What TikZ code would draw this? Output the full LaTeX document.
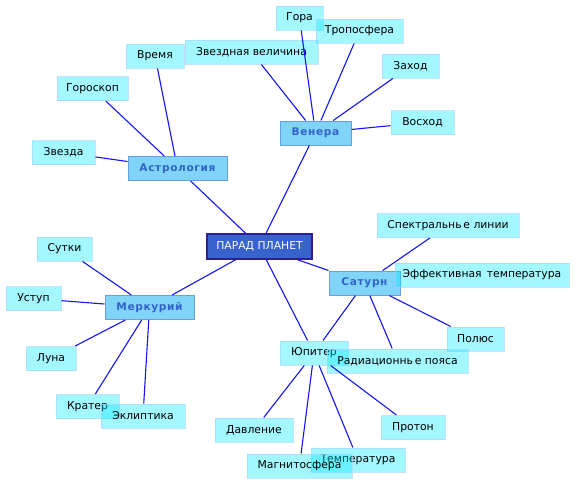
\documentclass[tikz,border=0pt]{standalone}
\usepackage{fontspec}
\setmainfont{DejaVu Sans}
\newfontfamily\hubfont[LetterSpace=6]{DejaVu Sans Bold}
\definecolor{leaffill}{RGB}{0,232,255}
\definecolor{leafdraw}{RGB}{170,215,255}
\definecolor{hubfill}{RGB}{128,212,248}
\definecolor{hubdraw}{RGB}{100,160,230}
\definecolor{hubtext}{RGB}{50,100,200}
\definecolor{cenfill}{RGB}{56,98,204}
\definecolor{cendraw}{RGB}{50,30,140}
\definecolor{linkc}{RGB}{20,20,245}
\tikzset{
  leaf/.style={rectangle, fill=leaffill, fill opacity=0.36, draw=leafdraw, draw opacity=0.7, line width=1pt,
    text opacity=1, text=black, minimum height=24pt, inner sep=0pt, font=\fontsize{10.8}{13}\selectfont},
  hub/.style={rectangle, fill=hubfill, draw=hubdraw, line width=1pt, text=hubtext,
    minimum height=24pt, inner sep=0pt, font=\fontsize{10.6}{13}\hubfont},
  cen/.style={rectangle, fill=cenfill, draw=cendraw, line width=1.5pt, text=white,
    minimum height=25pt, inner sep=0pt, font=\fontsize{10.8}{13}\selectfont},
  link/.style={draw=linkc, line width=1.1pt}
}
\begin{document}
\begin{tikzpicture}[x=1pt,y=-1pt]
\useasboundingbox (0,0) rectangle (576,485);
% hubs
\node[cen, minimum width=105pt] (c) at (259.5,246.5) {ПАРАД ПЛАНЕТ};
\node[hub, minimum width=71pt] (venera) at (315.5,133) {Венера};
\node[hub, minimum width=99pt] (astro) at (177.5,168.5) {Астрология};
\node[hub, minimum width=71pt] (saturn) at (364.5,283) {Сатурн};
\node[hub, minimum width=89pt] (merk) at (149.5,307.5) {Меркурий};
\node[leaf, minimum width=68pt] (jup) at (314,353) {Юпитер};
% leaves
\node[leaf, minimum width=47pt] (gora) at (299.5,18) {Гора};
\node[leaf, minimum width=87pt] (tropo) at (359.5,31) {Тропосфера};
\node[leaf, minimum width=133pt] (zv) at (251.5,52) {Звездная величина};
\node[leaf, minimum width=57pt] (zahod) at (410.5,66) {Заход};
\node[leaf, minimum width=63pt] (voshod) at (422.5,122.5) {Восход};
\node[leaf, minimum width=58pt] (vremya) at (155,56) {Время};
\node[leaf, minimum width=71pt] (goroskop) at (92.5,88.5) {Гороскоп};
\node[leaf, minimum width=63pt] (zvezda) at (63.5,152.5) {Звезда};
\node[leaf, minimum width=142pt] (spektr) at (448,225.5) {Спектральнь\,е линии};
\node[leaf, minimum width=174pt] (efft) at (482,275) {Эффективная\, температура};
\node[leaf, minimum width=57pt] (polus) at (475.5,339) {Полюс};
\node[leaf, minimum width=141pt] (rad) at (397.5,361) {Радиационнь\,е пояса};
\node[leaf, minimum width=55pt] (sutki) at (64.5,249) {Сутки};
\node[leaf, minimum width=55pt] (ustup) at (33.5,298.5) {Уступ};
\node[leaf, minimum width=50pt] (luna) at (51,358.5) {Луна};
\node[leaf, minimum width=63pt] (krater) at (87.5,406.5) {Кратер};
\node[leaf, minimum width=84pt] (eklip) at (143,416) {Эклиптика};
\node[leaf, minimum width=78pt] (davl) at (254,430) {Давление};
\node[leaf, minimum width=64pt] (proton) at (413,427.5) {Протон};
\node[leaf, minimum width=94pt] (temp) at (358,460) {Температура};
\node[leaf, minimum width=105pt] (magn) at (299.5,466) {Магнитосфера};
% links
\draw[link] (c) -- (venera);
\draw[link] (c) -- (astro);
\draw[link] (c) -- (saturn);
\draw[link] (c) -- (merk);
\draw[link] (c) -- (jup);
\draw[link] (venera) -- (gora);
\draw[link] (venera) -- (tropo);
\draw[link] (venera) -- (zv);
\draw[link] (venera) -- (zahod);
\draw[link] (venera) -- (voshod);
\draw[link] (astro) -- (vremya);
\draw[link] (astro) -- (goroskop);
\draw[link] (astro) -- (zvezda);
\draw[link] (saturn) -- (spektr);
\draw[link] (saturn) -- (polus);
\draw[link] (saturn) -- (rad);
\draw[link] (saturn) -- (jup);
\draw[link] (merk) -- (sutki);
\draw[link] (merk) -- (ustup);
\draw[link] (merk) -- (luna);
\draw[link] (merk) -- (krater);
\draw[link] (merk) -- (eklip);
\draw[link] (jup) -- (davl);
\draw[link] (jup) -- (magn);
\draw[link] (jup) -- (temp);
\draw[link] (jup) -- (proton);
\end{tikzpicture}
\end{document}
